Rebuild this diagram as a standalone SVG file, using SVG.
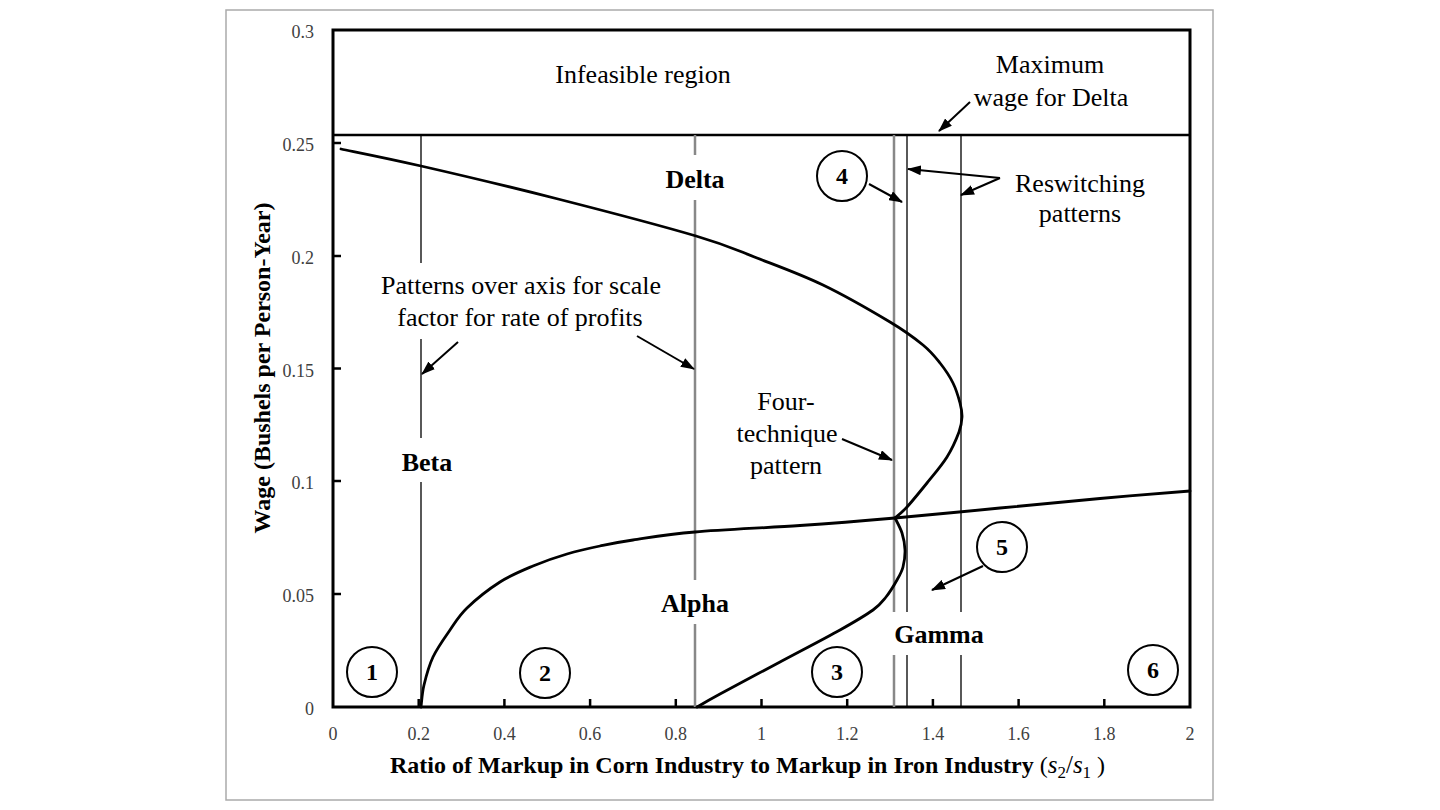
<svg xmlns="http://www.w3.org/2000/svg" width="1440" height="810" viewBox="0 0 1440 810">
<style>
.lbl{font-family:"Liberation Serif","Times New Roman",serif;font-size:26px;fill:#000;text-anchor:middle}
.bld{font-family:"Liberation Serif","Times New Roman",serif;font-size:26px;font-weight:bold;fill:#000;text-anchor:middle}
.num{font-family:"Liberation Serif","Times New Roman",serif;font-size:24px;font-weight:bold;fill:#000;text-anchor:middle}
.tk{font-family:"Liberation Serif","Times New Roman",serif;font-size:18px;fill:#404040}
.ttl{font-family:"Liberation Serif","Times New Roman",serif;font-size:24px;font-weight:bold;fill:#000}
.curve{fill:none;stroke:#000;stroke-width:2.8;stroke-linejoin:round;stroke-linecap:round}
.vk{stroke:#000;stroke-width:1.3}
.vg{stroke:#888;stroke-width:2.5}
.arr{stroke:#000;stroke-width:2;fill:none;marker-end:url(#ah)}
.circ{fill:#fff;stroke:#000;stroke-width:2}
</style>
<defs>
<marker id="ah" markerUnits="userSpaceOnUse" markerWidth="14" markerHeight="10" refX="13" refY="5" orient="auto">
<path d="M0,0 L14,5 L0,10 z" fill="#000"/>
</marker>
</defs>
<rect x="0" y="0" width="1440" height="810" fill="#fff"/>
<rect x="226" y="10" width="987" height="790" fill="none" stroke="#aaa" stroke-width="1.5"/>

<g id="axes">
<rect x="333" y="30" width="857" height="677" fill="none" stroke="#000" stroke-width="3"/>
<g stroke="#000" stroke-width="2.5">
<line x1="333" y1="594" x2="341" y2="594"/>
<line x1="333" y1="481" x2="341" y2="481"/>
<line x1="333" y1="368.5" x2="341" y2="368.5"/>
<line x1="333" y1="256" x2="341" y2="256"/>
<line x1="333" y1="143" x2="341" y2="143"/>
<line x1="418.7" y1="707" x2="418.7" y2="699"/>
<line x1="504.4" y1="707" x2="504.4" y2="699"/>
<line x1="590.1" y1="707" x2="590.1" y2="699"/>
<line x1="675.8" y1="707" x2="675.8" y2="699"/>
<line x1="761.5" y1="707" x2="761.5" y2="699"/>
<line x1="847.2" y1="707" x2="847.2" y2="699"/>
<line x1="932.9" y1="707" x2="932.9" y2="699"/>
<line x1="1018.6" y1="707" x2="1018.6" y2="699"/>
<line x1="1104.3" y1="707" x2="1104.3" y2="699"/>
</g>
<g class="tk" text-anchor="end">
<text x="314" y="38">0.3</text>
<text x="314" y="151">0.25</text>
<text x="314" y="264">0.2</text>
<text x="314" y="377">0.15</text>
<text x="314" y="489">0.1</text>
<text x="314" y="602">0.05</text>
<text x="314" y="715">0</text>
</g>
<g class="tk" text-anchor="middle">
<text x="333" y="740">0</text>
<text x="418.7" y="740">0.2</text>
<text x="504.4" y="740">0.4</text>
<text x="590.1" y="740">0.6</text>
<text x="675.8" y="740">0.8</text>
<text x="761.5" y="740">1</text>
<text x="847.2" y="740">1.2</text>
<text x="932.9" y="740">1.4</text>
<text x="1018.6" y="740">1.6</text>
<text x="1104.3" y="740">1.8</text>
<text x="1190" y="740">2</text>
</g>
<text class="ttl" text-anchor="middle" transform="translate(270,368) rotate(-90)">Wage (Bushels per Person-Year)</text>
<text class="ttl" x="390" y="773">Ratio of Markup in Corn Industry to Markup in Iron Industry <tspan font-weight="normal">(</tspan><tspan font-weight="normal" font-style="italic" font-size="25">s</tspan><tspan font-weight="normal" font-size="17" dy="5">2</tspan><tspan font-weight="normal" font-size="25" dy="-5">/</tspan><tspan font-weight="normal" font-style="italic" font-size="25">s</tspan><tspan font-weight="normal" font-size="17" dy="5">1</tspan><tspan font-weight="normal" dy="-5"> )</tspan></text>
</g>

<g id="lines">
<line x1="333" y1="135" x2="1190" y2="135" stroke="#000" stroke-width="2.5"/>
<path class="vk" d="M421,135 V263 M421,339 V438 M421,482 V707"/>
<path class="vg" d="M695,135 V155 M695,200 V580 M695,624 V707"/>
<path class="vg" d="M894,135 V612 M894,655 V707"/>
<path class="vk" d="M907,135 V612 M907,655 V707"/>
<path class="vk" d="M961,135 V612 M961,655 V707"/>
</g>

<g id="curves">
<path class="curve" d="M341,149 C354.3,151.8 384.8,157.7 421,166 C457.2,174.3 512.2,187.3 558,199 C603.8,210.7 662.8,226.2 696,236 C729.2,245.8 735.8,249.8 757,258 C778.2,266.2 800.8,274.3 823,285 C845.2,295.7 873.3,312 890,322 C906.7,332 914.7,338.2 923,345 C931.3,351.8 935,356.7 940,363 C945,369.3 949.7,376.3 953,383 C956.3,389.7 958.5,397.3 960,403 C961.5,408.7 962.2,412.2 962,417 C961.8,421.8 961.5,425.3 959,432 C956.5,438.7 952.3,448.5 947,457 C941.7,465.5 933.7,474.7 927,483 C920.3,491.3 912.3,501.2 907,507 C901.7,512.8 897,516.2 895,518"/>
<path class="curve" d="M895,518 C896.2,520.5 900.3,527.7 902,533 C903.7,538.3 904.8,544.3 905,550 C905.2,555.7 904.3,562 903,567 C901.7,572 899.8,575 897,580 C894.2,585 890,592 886,597 C882,602 880.7,604.5 873,610 C865.3,615.5 855.5,621.3 840,630 C824.5,638.7 800,651.3 780,662 C760,672.7 733.8,686.5 720,694 C706.2,701.5 700.8,704.8 697,707"/>
<path class="curve" d="M421,707 C421.5,703.3 422,693.3 424,685 C426,676.7 428.7,666.2 433,657 C437.3,647.8 444.3,638.2 450,630 C455.7,621.8 458.7,616 467,608 C475.3,600 489,589 500,582 C511,575 521.8,570.7 533,566 C544.2,561.3 555.8,557.3 567,554 C578.2,550.7 589,548.3 600,546 C611,543.7 617.2,542.3 633,540 C648.8,537.7 667.2,534.4 695,532 C722.8,529.6 766.7,527.8 800,525.5 C833.3,523.2 861.7,520.9 895,518 C928.3,515.1 965.8,511.3 1000,508 C1034.2,504.8 1068.3,501.3 1100,498.5 C1131.7,495.7 1175,492.3 1190,491"/>
</g>

<g id="connectors">
<line class="arr" x1="970" y1="102" x2="939" y2="131"/>
<line class="arr" x1="869" y1="184" x2="902" y2="202"/>
<line class="arr" x1="1000" y1="178" x2="908" y2="169"/>
<line class="arr" x1="1000" y1="178" x2="961" y2="195"/>
<line class="arr" x1="458" y1="342" x2="422" y2="374"/>
<line class="arr" x1="637" y1="336" x2="694" y2="369"/>
<line class="arr" x1="842" y1="439" x2="892" y2="460"/>
<line class="arr" x1="983" y1="566" x2="932" y2="590"/>
</g>

<g id="labels">
<text class="lbl" x="643" y="83">Infeasible region</text>
<text class="lbl" x="1050" y="73">Maximum</text>
<text class="lbl" x="1051" y="106">wage for Delta</text>
<text class="lbl" x="1080" y="192">Reswitching</text>
<text class="lbl" x="1080" y="222">patterns</text>
<text class="lbl" x="521" y="294">Patterns over axis for scale</text>
<text class="lbl" x="520" y="326">factor for rate of profits</text>
<text class="lbl" x="786" y="410">Four-</text>
<text class="lbl" x="787" y="442">technique</text>
<text class="lbl" x="786" y="474">pattern</text>
<text class="bld" x="427" y="471">Beta</text>
<text class="bld" x="695" y="188">Delta</text>
<text class="bld" x="695" y="612">Alpha</text>
<text class="bld" x="939" y="643">Gamma</text>
</g>

<g id="region1"><circle class="circ" cx="372" cy="672" r="25"/><text class="num" x="372" y="680">1</text></g>
<g id="region2"><circle class="circ" cx="545" cy="673" r="25"/><text class="num" x="545" y="681">2</text></g>
<g id="region3"><circle class="circ" cx="837" cy="672" r="25"/><text class="num" x="837" y="680">3</text></g>
<g id="region4"><circle class="circ" cx="842" cy="176" r="25"/><text class="num" x="842" y="184">4</text></g>
<g id="region5"><circle class="circ" cx="1002" cy="547" r="25"/><text class="num" x="1002" y="555">5</text></g>
<g id="region6"><circle class="circ" cx="1153" cy="670" r="25"/><text class="num" x="1153" y="678">6</text></g>
</svg>
